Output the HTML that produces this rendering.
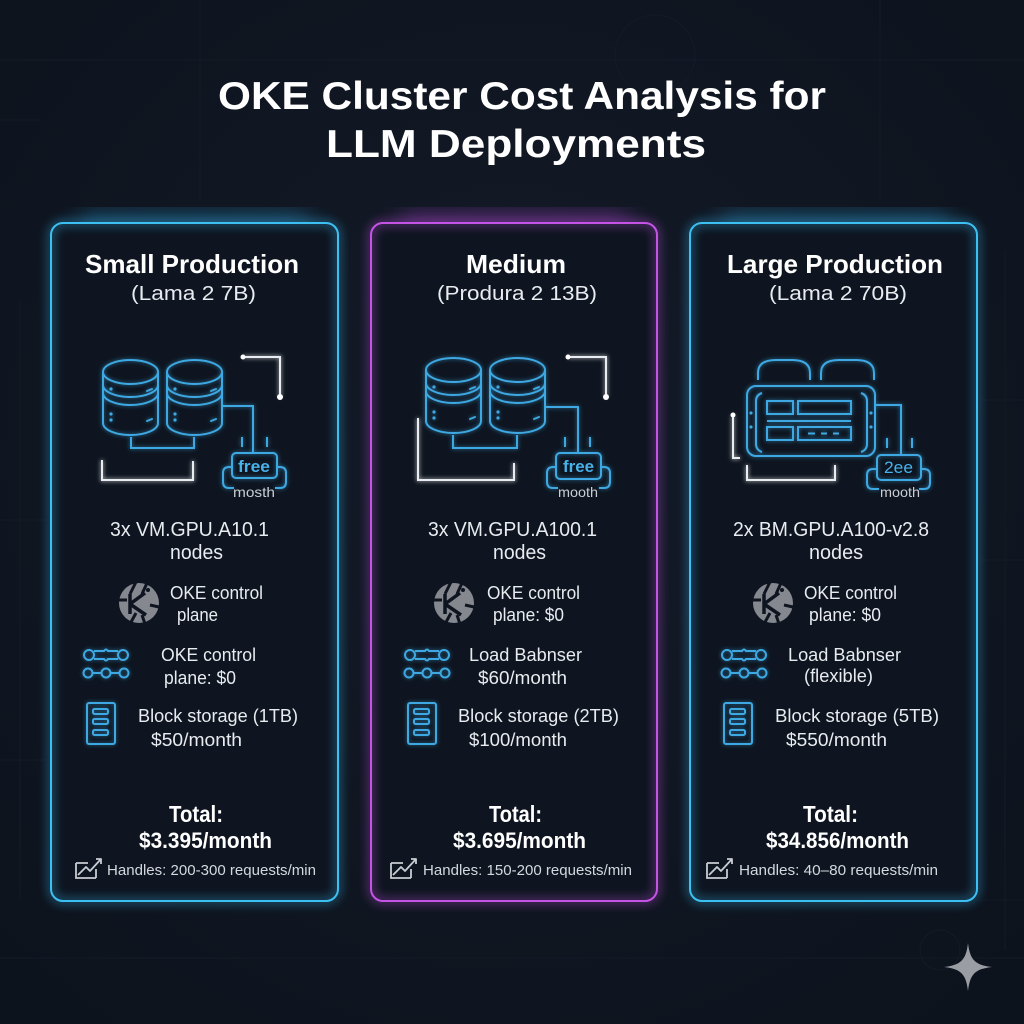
<!DOCTYPE html>
<html><head><meta charset="utf-8"><style>
html,body{margin:0;padding:0;background:#0f1520;}
svg{display:block;}
text{font-family:"Liberation Sans",Arial,sans-serif;}
</style></head><body>
<svg width="1024" height="1024" viewBox="0 0 1024 1024" xmlns="http://www.w3.org/2000/svg">
<defs>
  <radialGradient id="bg" cx="50%" cy="45%" r="70%">
    <stop offset="0" stop-color="#141b28"/>
    <stop offset="1" stop-color="#0d131d"/>
  </radialGradient>
  <filter id="gl" x="-30%" y="-30%" width="160%" height="160%"><feGaussianBlur stdDeviation="5"/></filter>
  <filter id="gs" x="-50%" y="-50%" width="200%" height="200%"><feGaussianBlur stdDeviation="2"/></filter>
  <filter id="gb" x="-50%" y="-50%" width="200%" height="200%"><feGaussianBlur stdDeviation="12"/></filter>
  <g id="cyl" fill="none" stroke="#3ea8e2" stroke-width="2">
    <ellipse cx="27.5" cy="12" rx="27.5" ry="12"/>
    <path d="M0,12 V63 M55,12 V63 M0,63 A27.5,12 0 0 0 55,63 M0,25 A27.5,12 0 0 0 55,25 M0,33 A27.5,12 0 0 0 55,33"/>
    <path d="M44,31 L49,29 M44,61 L49,59" stroke-linecap="round"/>
    <circle cx="8" cy="29" r="1.6" fill="#3ea8e2" stroke="none"/>
    <circle cx="8" cy="54" r="1.6" fill="#3ea8e2" stroke="none"/>
    <circle cx="8" cy="60" r="1.6" fill="#3ea8e2" stroke="none"/>
  </g>
  <g id="oke">
    <circle cx="0" cy="0" r="20" fill="#85888f"/>
    <g stroke="#0f1520" stroke-width="3" fill="none">
      <path d="M-3,-21 L-9,-9 M8,-20 L3,-9 M-21,-3 L-12,-3 M20,4 L11,2 M-9,21 L-3,10 M6,21 L3,12"/>
      <path d="M-9,-9 L-9,11 M-9,1 L6,-10 M-9,1 L7,12" stroke-width="3.5"/>
    </g>
    <circle cx="9" cy="-13" r="2" fill="#0f1520"/>
  </g>
  <g id="link" fill="none" stroke="#3ea8e2" stroke-width="2">
    <circle cx="6" cy="8" r="5"/>
    <circle cx="40" cy="8" r="5"/>
    <path d="M11,4 H21 Q23,1 25,4 H35 M11,12 H21 Q23,15 25,12 H35"/>
    <circle cx="5" cy="26" r="4.5"/>
    <circle cx="23" cy="26" r="4.5"/>
    <circle cx="41" cy="26" r="4.5"/>
    <path d="M9.5,26 H18.5 M27.5,26 H36.5"/>
  </g>
  <g id="stor" fill="none" stroke="#3ea8e2" stroke-width="2">
    <rect x="0" y="0" width="28" height="41" rx="2"/>
    <rect x="6" y="6" width="15" height="5" rx="1.5"/>
    <rect x="6" y="16" width="15" height="5" rx="1.5"/>
    <rect x="6" y="27" width="15" height="5" rx="1.5"/>
  </g>
  <g id="chart" fill="none" stroke="#c9ccd2" stroke-width="1.8">
    <path d="M0,8 V23 H20"/>
    <path d="M2,20 L10,12 L14,16 L25,4 M20,4 H25 V9" stroke-linejoin="round"/>
    <path d="M0,8 H12 M20,23 V14" />
  </g>
  <g id="blue" fill="none" stroke="#3ea8e2" stroke-width="2">
    <path d="M131,437 V448 H194 V437"/>
    <path d="M222,406 H253 V453"/>
    <path d="M242,437 V447 M267,437 V447"/>
    <rect x="232" y="453" width="45" height="25" rx="4"/>
    <path d="M232,467 H229 Q223,467 223,473 V482 Q223,488 229,488 H234"/>
    <path d="M277,467 H280 Q286,467 286,473 V482 Q286,488 280,488 H275"/>
    <path d="M453,435 V448 H517 V435"/>
    <path d="M544,407 H578 V453"/>
    <path d="M565,437 V447 M590,437 V447"/>
    <rect x="556" y="453" width="45" height="26" rx="4"/>
    <path d="M556,467 H553 Q547,467 547,473 V482 Q547,488 553,488 H558"/>
    <path d="M601,467 H604 Q610,467 610,473 V482 Q610,488 604,488 H599"/>
    <path d="M758,380 V373 Q758,360 776,360 H792 Q810,360 810,373 V380"/>
    <path d="M821,380 V373 Q821,360 839,360 H856 Q874,360 874,373 V380"/>
    <rect x="747" y="386" width="128" height="70" rx="9"/>
    <path d="M762,393 Q756,395 756,401 V444 Q756,450 762,452"/>
    <path d="M861,393 Q867,395 867,401 V444 Q867,450 861,452"/>
    <rect x="767" y="401" width="26" height="13"/>
    <rect x="798" y="401" width="53" height="13"/>
    <path d="M767,421 H851"/>
    <rect x="767" y="427" width="26" height="13"/>
    <rect x="798" y="427" width="53" height="13"/>
    <path d="M808,433.5 H815 M821,433.5 H827 M833,433.5 H839"/>
    <path d="M875,405 H901 V455"/>
    <path d="M887,438 V448 M912,438 V448"/>
    <rect x="877" y="455" width="44" height="25" rx="4"/>
    <path d="M877,469 H873 Q867,469 867,475 V483 Q867,489 873,489 H879"/>
    <path d="M921,469 H924 Q930,469 930,475 V483 Q930,489 924,489 H919"/>
  </g>
</defs>

<rect width="1024" height="1024" fill="url(#bg)"/>
<!-- faint background circuitry -->
<g stroke="#161e2b" stroke-width="1" fill="none" opacity="0.7">
  <path d="M0,60 H1024 M0,120 H40 M0,520 H45 M980,400 H1024 M980,560 H1024 M0,760 H45 M980,900 H1024 M0,958 H1024"/>
  <path d="M200,0 V200 M880,0 V200 M20,300 V900 M1005,250 V950"/>
  <circle cx="655" cy="55" r="40"/>
  <circle cx="940" cy="950" r="20"/>
</g>

<!-- Title -->
<text x="218" y="109" font-size="39" font-weight="bold" fill="#ffffff" textLength="608" lengthAdjust="spacingAndGlyphs">OKE Cluster Cost Analysis for</text>
<text x="326" y="157" font-size="39" font-weight="bold" fill="#ffffff" textLength="380" lengthAdjust="spacingAndGlyphs">LLM Deployments</text>

<!-- Card glows -->
<g filter="url(#gb)" opacity="0.55">
  <rect x="80" y="214" width="230" height="14" fill="#2a9fd8"/>
  <rect x="400" y="214" width="230" height="14" fill="#b046d8"/>
  <rect x="720" y="214" width="230" height="14" fill="#2a9fd8"/>
</g>
<!-- Cards -->
<g fill="#0e1520">
  <rect x="51" y="223" width="287" height="678" rx="12"/>
  <rect x="371" y="223" width="286" height="678" rx="12"/>
  <rect x="690" y="223" width="287" height="678" rx="12"/>
</g>
<g fill="none" filter="url(#gl)" stroke-width="4" opacity="0.7">
  <rect x="51" y="223" width="287" height="678" rx="12" stroke="#35b4ee"/>
  <rect x="371" y="223" width="286" height="678" rx="12" stroke="#c04ee2"/>
  <rect x="690" y="223" width="287" height="678" rx="12" stroke="#35b4ee"/>
</g>
<g fill="none" stroke-width="2">
  <rect x="51" y="223" width="287" height="678" rx="12" stroke="#3cc0f2"/>
  <rect x="371" y="223" width="286" height="678" rx="12" stroke="#c553e6"/>
  <rect x="690" y="223" width="287" height="678" rx="12" stroke="#3cc0f2"/>
</g>

<!-- ============ ILLUSTRATIONS ============ -->
<g filter="url(#gs)" opacity="0.7">
  <use href="#cyl" x="103" y="360"/><use href="#cyl" x="167" y="360"/>
  <use href="#cyl" x="426" y="358"/><use href="#cyl" x="490" y="358"/>
  <use href="#blue"/>
</g>
<use href="#cyl" x="103" y="360"/><use href="#cyl" x="167" y="360"/>
<use href="#cyl" x="426" y="358"/><use href="#cyl" x="490" y="358"/>
<use href="#blue"/>

<g fill="#3ea8e2">
  <circle cx="751" cy="413" r="1.6"/><circle cx="751" cy="427" r="1.6"/>
  <circle cx="871" cy="413" r="1.6"/><circle cx="871" cy="427" r="1.6"/>
</g>

<!-- white lines with glow -->
<g fill="none" stroke="#ffffff" stroke-width="3" filter="url(#gs)" opacity="0.6">
  <path d="M102,460 V480 H193 V461"/><path d="M243,357 H280 V397"/>
  <path d="M418,418 V480 H514 V463"/><path d="M568,357 H606 V397"/>
  <path d="M733,415 V458 H740"/><path d="M747,465 V480 H835 V465"/>
</g>
<g fill="none" stroke="#e9edf2" stroke-width="2">
  <path d="M102,460 V480 H193 V461"/><path d="M243,357 H280 V397"/>
  <path d="M418,418 V480 H514 V463"/><path d="M568,357 H606 V397"/>
  <path d="M733,415 V458 H740"/><path d="M747,465 V480 H835 V465"/>
</g>
<g fill="#ffffff">
  <circle cx="243" cy="357" r="2.5"/><circle cx="280" cy="397" r="3"/>
  <circle cx="568" cy="357" r="2.5"/><circle cx="606" cy="397" r="3"/>
  <circle cx="733" cy="415" r="2.5"/>
</g>

<!-- small labels in illustrations -->
<text x="238" y="472" font-size="17" font-weight="bold" fill="#47b2ea" textLength="32" lengthAdjust="spacingAndGlyphs">free</text>
<text x="233" y="497" font-size="14" fill="#c9cdd3" textLength="42" lengthAdjust="spacingAndGlyphs">mosth</text>
<text x="563" y="472" font-size="17" font-weight="bold" fill="#47b2ea" textLength="31" lengthAdjust="spacingAndGlyphs">free</text>
<text x="558" y="497" font-size="14" fill="#c9cdd3" textLength="40" lengthAdjust="spacingAndGlyphs">mooth</text>
<text x="884" y="473" font-size="17" fill="#47b2ea" textLength="29" lengthAdjust="spacingAndGlyphs">2ee</text>
<text x="880" y="497" font-size="14" fill="#c9cdd3" textLength="40" lengthAdjust="spacingAndGlyphs">mooth</text>

<!-- ============ ICONS ============ -->
<use href="#oke" x="139" y="603"/>
<use href="#oke" x="454" y="603"/>
<use href="#oke" x="773" y="603"/>
<g filter="url(#gs)" opacity="0.6">
  <use href="#link" x="83" y="647"/><use href="#link" x="404" y="647"/><use href="#link" x="721" y="647"/>
  <use href="#stor" x="87" y="703"/><use href="#stor" x="408" y="703"/><use href="#stor" x="724" y="703"/>
</g>
<use href="#link" x="83" y="647"/>
<use href="#link" x="404" y="647"/>
<use href="#link" x="721" y="647"/>
<use href="#stor" x="87" y="703"/>
<use href="#stor" x="408" y="703"/>
<use href="#stor" x="724" y="703"/>
<use href="#chart" x="76" y="855"/>
<use href="#chart" x="391" y="855"/>
<use href="#chart" x="707" y="855"/>

<!-- ============ CARD TEXT ============ -->
<g fill="#ffffff" font-weight="bold">
  <text x="85" y="273" font-size="26" textLength="214" lengthAdjust="spacingAndGlyphs">Small Production</text>
  <text x="466" y="273" font-size="26" textLength="100" lengthAdjust="spacingAndGlyphs">Medium</text>
  <text x="727" y="273" font-size="26" textLength="216" lengthAdjust="spacingAndGlyphs">Large Production</text>
  <text x="169" y="822" font-size="23" textLength="54" lengthAdjust="spacingAndGlyphs">Total:</text>
  <text x="139" y="848" font-size="22" textLength="133" lengthAdjust="spacingAndGlyphs">$3.395/month</text>
  <text x="489" y="822" font-size="23" textLength="53" lengthAdjust="spacingAndGlyphs">Total:</text>
  <text x="453" y="848" font-size="22" textLength="133" lengthAdjust="spacingAndGlyphs">$3.695/month</text>
  <text x="803" y="822" font-size="23" textLength="55" lengthAdjust="spacingAndGlyphs">Total:</text>
  <text x="766" y="848" font-size="22" textLength="143" lengthAdjust="spacingAndGlyphs">$34.856/month</text>
</g>
<g fill="#e8ebef" font-size="20">
  <text x="131" y="300" textLength="125" lengthAdjust="spacingAndGlyphs">(Lama 2 7B)</text>
  <text x="437" y="300" textLength="160" lengthAdjust="spacingAndGlyphs">(Produra 2 13B)</text>
  <text x="769" y="300" textLength="138" lengthAdjust="spacingAndGlyphs">(Lama 2 70B)</text>

  <text x="110" y="536" textLength="159" lengthAdjust="spacingAndGlyphs">3x VM.GPU.A10.1</text>
  <text x="170" y="559" textLength="53" lengthAdjust="spacingAndGlyphs">nodes</text>
  <text x="428" y="536" textLength="169" lengthAdjust="spacingAndGlyphs">3x VM.GPU.A100.1</text>
  <text x="493" y="559" textLength="53" lengthAdjust="spacingAndGlyphs">nodes</text>
  <text x="733" y="536" textLength="196" lengthAdjust="spacingAndGlyphs">2x BM.GPU.A100-v2.8</text>
  <text x="809" y="559" textLength="54" lengthAdjust="spacingAndGlyphs">nodes</text>
</g>
<g fill="#e8ebef" font-size="18">
  <text x="170" y="599" textLength="93" lengthAdjust="spacingAndGlyphs">OKE control</text>
  <text x="177" y="621" textLength="41" lengthAdjust="spacingAndGlyphs">plane</text>
  <text x="161" y="661" textLength="95" lengthAdjust="spacingAndGlyphs">OKE control</text>
  <text x="164" y="684" textLength="72" lengthAdjust="spacingAndGlyphs">plane: $0</text>
  <text x="138" y="722" textLength="160" lengthAdjust="spacingAndGlyphs">Block storage (1TB)</text>
  <text x="151" y="746" textLength="91" lengthAdjust="spacingAndGlyphs">$50/month</text>

  <text x="487" y="599" textLength="93" lengthAdjust="spacingAndGlyphs">OKE control</text>
  <text x="493" y="621" textLength="71" lengthAdjust="spacingAndGlyphs">plane: $0</text>
  <text x="469" y="661" textLength="113" lengthAdjust="spacingAndGlyphs">Load Babnser</text>
  <text x="478" y="684" textLength="89" lengthAdjust="spacingAndGlyphs">$60/month</text>
  <text x="458" y="722" textLength="161" lengthAdjust="spacingAndGlyphs">Block storage (2TB)</text>
  <text x="469" y="746" textLength="98" lengthAdjust="spacingAndGlyphs">$100/month</text>

  <text x="804" y="599" textLength="93" lengthAdjust="spacingAndGlyphs">OKE control</text>
  <text x="809" y="621" textLength="72" lengthAdjust="spacingAndGlyphs">plane: $0</text>
  <text x="788" y="661" textLength="113" lengthAdjust="spacingAndGlyphs">Load Babnser</text>
  <text x="804" y="682" textLength="69" lengthAdjust="spacingAndGlyphs">(flexible)</text>
  <text x="775" y="722" textLength="164" lengthAdjust="spacingAndGlyphs">Block storage (5TB)</text>
  <text x="786" y="746" textLength="101" lengthAdjust="spacingAndGlyphs">$550/month</text>
</g>
<g fill="#d4d8de" font-size="15">
  <text x="107" y="875" textLength="209" lengthAdjust="spacingAndGlyphs">Handles: 200-300 requests/min</text>
  <text x="423" y="875" textLength="209" lengthAdjust="spacingAndGlyphs">Handles: 150-200 requests/min</text>
  <text x="739" y="875" textLength="199" lengthAdjust="spacingAndGlyphs">Handles: 40–80 requests/min</text>
</g>

<!-- sparkle -->
<path d="M968,943 C970,960 975,965 992,967 C975,969 970,974 968,991 C966,974 961,969 944,967 C961,965 966,960 968,943 Z" fill="#9a9da3"/>
</svg>
</body></html>
